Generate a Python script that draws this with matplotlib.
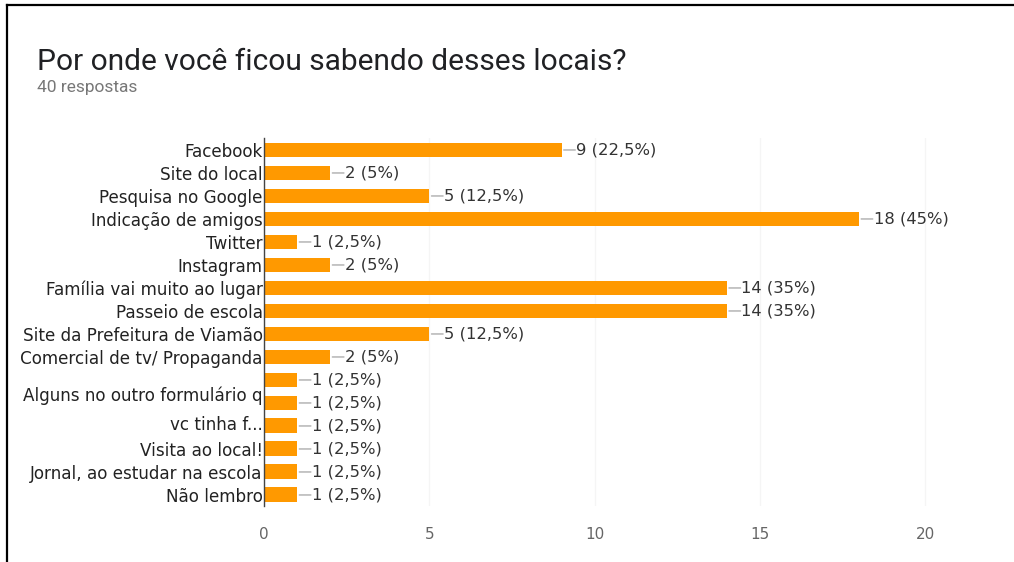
import matplotlib
matplotlib.use('Agg')
import matplotlib.pyplot as plt
from matplotlib.lines import Line2D

# data
labels = ['Facebook', 'Site do local', 'Pesquisa no Google', 'Indicação de amigos',
          'Twitter', 'Instagram', 'Família vai muito ao lugar', 'Passeio de escola',
          'Site da Prefeitura de Viamão', 'Comercial de tv/ Propaganda', '',
          'Alguns no outro formulário q\nvc tinha f...', '', 'Visita ao local!',
          'Jornal, ao estudar na escola', 'Não lembro']
counts = [9, 2, 5, 18, 1, 2, 14, 14, 5, 2, 1, 1, 1, 1, 1, 1]
pct = ['22,5%', '5%', '12,5%', '45%', '2,5%', '5%', '35%', '35%', '12,5%', '5%',
       '2,5%', '2,5%', '2,5%', '2,5%', '2,5%', '2,5%']
xticks = [0, 5, 10, 15, 20]

plt.rcParams['font.family'] = ['DejaVu Sans']
fig = plt.figure(figsize=(10.14, 5.62), dpi=100)
ax = fig.add_axes([0.2604, 0.0988, 0.7008, 0.6548])

y = list(range(len(labels)))
ax.barh(y, counts, height=0.65, color='#ff9900')
ax.set_ylim(len(labels) - 0.5, -0.5)
ax.set_xlim(0, 21.5)
ax.set_yticks(y)
ax.set_yticklabels(labels, fontsize=12.1, color='#222222', linespacing=1.8)
ax.set_xticks(xticks)
ax.set_xticklabels([str(t) for t in xticks], fontsize=11, color='#666666')
ax.tick_params(axis='both', length=0)
ax.tick_params(axis='x', pad=15)
ax.tick_params(axis='y', pad=1)
for s in ['top', 'right', 'bottom']:
    ax.spines[s].set_visible(False)
ax.spines['left'].set_color('#444444')
ax.spines['left'].set_linewidth(1.0)
ax.grid(axis='x', color='#f5f5f5', lw=1)
ax.set_axisbelow(True)

for yi, c, p in zip(y, counts, pct):
    ax.annotate('', xy=(c, yi), xytext=(10, 0), textcoords='offset points',
                arrowprops=dict(arrowstyle='-', color='#999999', lw=0.8, shrinkA=0, shrinkB=1.5))
    ax.annotate(f'{c} ({p})', xy=(c, yi), xytext=(10.5, 0), textcoords='offset points',
                va='center', ha='left', fontsize=11.8, color='#333333')

fig.text(0.0365, 0.875, 'Por onde você ficou sabendo desses locais?', fontsize=21.5,
         color='#202124', family=['Roboto', 'DejaVu Sans'], va='baseline')
fig.text(0.0365, 0.836, '40 respostas', fontsize=12.5, color='#777777',
         family=['Roboto', 'DejaVu Sans'], va='baseline')

# black frame of the screenshot (top and left edges)
fig.add_artist(Line2D([0.007, 1.0], [0.991, 0.991], color='black', lw=1.6, transform=fig.transFigure))
fig.add_artist(Line2D([0.007, 0.007], [0.0, 0.991], color='black', lw=1.6, transform=fig.transFigure))

fig.savefig('out.png', dpi=100)
